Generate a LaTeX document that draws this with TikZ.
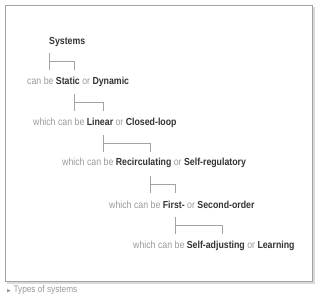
\documentclass[tikz,border=0pt]{standalone}
\usepackage{fontspec}
\setmainfont{Liberation Sans}[FakeStretch=0.86]
\newfontfamily\symbolfont{DejaVu Sans}
\usepackage{xcolor}
\definecolor{softgray}{HTML}{9A9A9A}
\definecolor{darktext}{HTML}{333333}
\definecolor{framegray}{HTML}{A3A3A3}
\definecolor{shadowgray}{HTML}{DADADA}
\newcommand{\kind}[1]{\textcolor{darktext}{\bfseries #1}}

\begin{document}
\begin{tikzpicture}[x=1pt, y=-1pt,
    level/.style={font=\fontsize{10.2}{12}\selectfont, text=softgray, inner sep=0pt, anchor=west},
    bracket/.style={framegray, line width=0.9pt}]

    \useasboundingbox (0,0) rectangle (320,300);

    % Marc
    \fill[shadowgray] (7,7) rectangle (314.5,283.5);
    \filldraw[
        fill=white,
        draw=framegray,
        line width=0.9pt
    ] (5.5,5.5) rectangle (312.5,281.5);

    % Nivells
    \node[level] (sys) at (49,42) {\kind{Systems}};
    \node[level] (lvA) at (27,82) {can be \kind{Static} or \kind{Dynamic}};
    \node[level] (lvB) at (33,123) {which can be \kind{Linear} or \kind{Closed-loop}};
    \node[level] (lvC) at (62,163) {which can be \kind{Recirculating} or \kind{Self-regulatory}};
    \node[level] (lvD) at (109,204.5) {which can be \kind{First-} or \kind{Second-order}};
    \node[level] (lvE) at (133,246) {which can be \kind{Self-adjusting} or \kind{Learning}};

    % Claudators
    \foreach \xl/\xr/\yt in {49.5/74/53, 74/103/94, 103/150/134.5, 150/175/175.5, 175/222/217}
        \draw[bracket] (\xl,\yt) -- ++(0,17) (\xl,\yt+8.5) -| (\xr,\yt+17);

    % Peu
    \node[level, font=\fontsize{9.6}{11}\selectfont] (caption) at (7,290)
        {{\symbolfont\fontsize{5}{6}\selectfont ▶}\hspace{2.5pt}Types of systems};

\end{tikzpicture}
\end{document}
